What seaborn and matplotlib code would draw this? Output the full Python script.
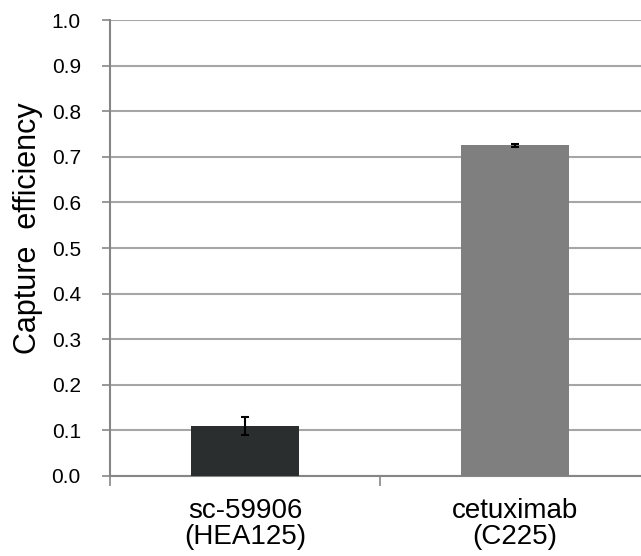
import matplotlib
matplotlib.use("Agg")
import matplotlib.pyplot as plt
import seaborn as sns
import pandas as pd
import numpy as np

antibodies = ['sc-59906\n(HEA125)', 'cetuximab\n(C225)']
efficiency = [0.11, 0.725]
errors = [0.02, 0.003]
bar_colors = ['#2b2e2e', '#7f7f7f']

sns.set_style('white')
plt.rcParams['font.family'] = ['Liberation Sans', 'DejaVu Sans']
plt.rcParams['text.color'] = 'black'
plt.rcParams['xtick.color'] = 'black'
plt.rcParams['ytick.color'] = 'black'
plt.rcParams['axes.labelcolor'] = 'black'

df = pd.DataFrame({'antibody': antibodies, 'efficiency': efficiency})

fig = plt.figure(figsize=(6.41, 5.56), dpi=100)
ax = fig.add_axes([0.1716, 0.1439, 0.8424, 0.8201])

sns.barplot(data=df, x='antibody', y='efficiency', hue='antibody', palette=bar_colors,
            width=0.4, errorbar=None, legend=False, saturation=1, linewidth=0,
            ax=ax, zorder=3)
ax.errorbar(np.arange(len(efficiency)), efficiency, yerr=errors, fmt='none',
            ecolor='black', elinewidth=1.5, capsize=3, capthick=1.5, zorder=4)

ax.set_xlim(-0.5, 1.5)
ax.set_ylim(0, 1.0)
ax.set_yticks(np.arange(0, 1.01, 0.1))
ax.set_yticklabels([f'{v:.1f}' for v in np.arange(0, 1.01, 0.1)], fontsize=15)
ax.yaxis.grid(True, color='#a6a6a6', linewidth=1.5, zorder=0)

# category labels on minor ticks, boundary tick marks on major ticks
ax.set_xticks([-0.5, 0.5, 1.5])
ax.set_xticklabels(['', '', ''])
ax.set_xticks([0, 1], minor=True)
ax.set_xticklabels(antibodies, minor=True, fontsize=20, linespacing=1.0)
ax.tick_params(axis='x', which='minor', bottom=False, length=0, pad=16)
ax.tick_params(axis='x', which='major', bottom=True, length=7, width=1.2,
               color='#868686', direction='out')
ax.tick_params(axis='y', left=True, length=6, width=1.2, color='#868686',
               labelcolor='black', direction='out', pad=15)

ax.set_xlabel('')
ax.set_ylabel('Capture  efficiency', fontsize=22)
ax.yaxis.set_label_coords(-0.124, 0.544)

for side in ['top', 'right']:
    ax.spines[side].set_visible(False)
for side in ['left', 'bottom']:
    ax.spines[side].set_color('#868686')
    ax.spines[side].set_linewidth(1.5)

plt.savefig('out.png', dpi=100)
plt.close()
